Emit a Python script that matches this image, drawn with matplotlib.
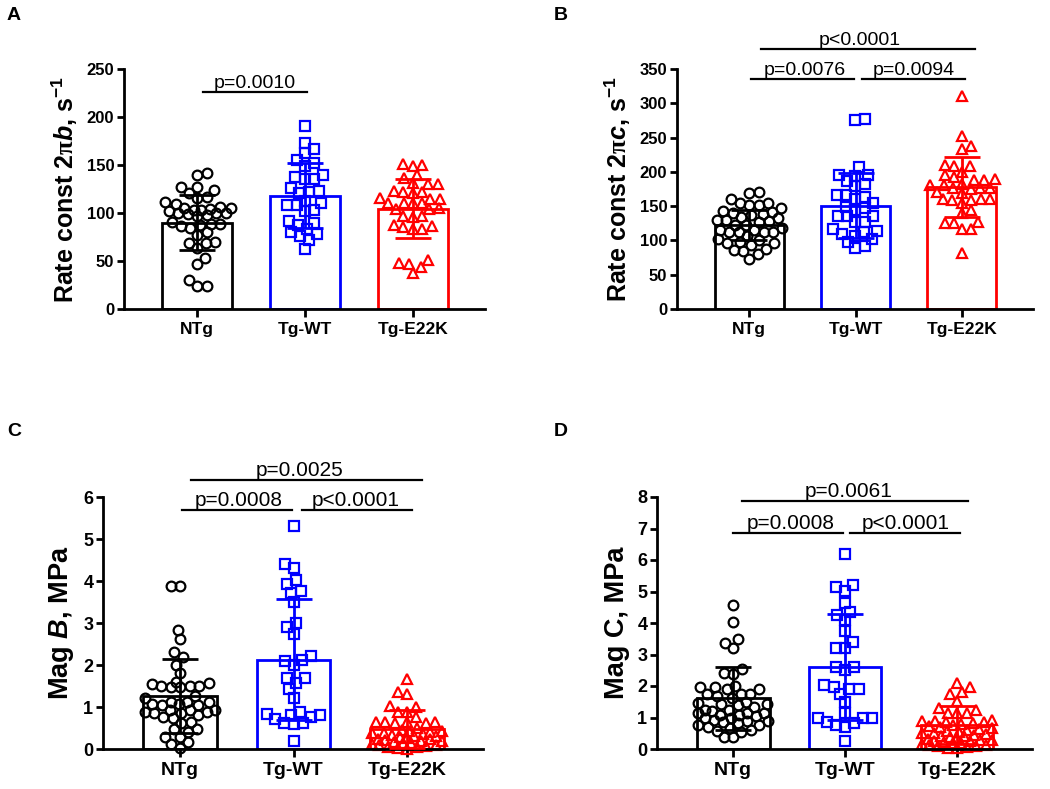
# plot.py
# 4 panels: bar (mean) + SD error bars + individual points (swarm), GraphPad style
import numpy as np
import matplotlib
matplotlib.use("Agg")
import matplotlib.pyplot as plt

plt.rcParams["font.family"] = ["Liberation Sans", "DejaVu Sans"]
plt.rcParams["font.weight"] = "bold"
plt.rcParams["mathtext.fontset"] = "custom"
plt.rcParams["mathtext.rm"] = "Liberation Sans:bold"
plt.rcParams["mathtext.bf"] = "Liberation Sans:bold"
plt.rcParams["mathtext.it"] = "Liberation Sans:bold:italic"
plt.rcParams["mathtext.sf"] = "Liberation Serif"
plt.rcParams["mathtext.default"] = "bf"

# ----------------------------
# data
# ----------------------------
groups = ["NTg", "Tg-WT", "Tg-E22K"]
colors = ["black", "#0000FF", "#FF0000"]
markers = ["o", "s", "^"]

# A: rate const 2*pi*b
A_ntg = [142, 140, 127, 127, 124, 121, 117, 116, 111, 109, 106, 105, 105, 104, 103, 103, 102,
         100, 100, 100, 99, 98, 97, 91, 89, 89, 87, 86, 84, 80, 77, 70, 69, 69, 64, 53, 47, 30, 24, 24]
A_wt = [191, 173, 167, 163, 155, 152, 149, 140, 138, 135, 135, 126, 123, 122, 121, 113, 110, 108,
        108, 103, 102, 92, 90, 88, 83, 80, 78, 76, 72, 63]
A_e22k = [151, 150, 149, 140, 136, 131, 130, 130, 123, 122, 122, 121, 116, 115, 115, 110, 110, 110,
          110, 105, 104, 104, 97, 97, 96, 88, 86, 85, 83, 83, 51, 48, 47, 44, 38]
A_mean = [90, 118, 104.5]
A_sd = [29, 34, 31]

# B: rate const 2*pi*c
B_ntg = [170, 169, 161, 155, 154, 152, 151, 147, 143, 142, 140, 138, 137, 134, 132, 130, 130, 129,
         127, 123, 122, 118, 115, 115, 113, 113, 113, 113, 106, 102, 101, 97, 96, 96, 93, 88, 86, 84, 80, 73]
B_wt = [277, 275, 207, 195, 195, 194, 186, 182, 179, 166, 166, 164, 160, 155, 149, 148, 145, 135,
        135, 135, 127, 127, 116, 114, 113, 109, 107, 102, 98, 92, 89]
B_e22k = [310, 252, 237, 233, 210, 208, 208, 200, 195, 192, 189, 188, 188, 183, 181, 181, 177, 176,
          176, 175, 171, 169, 161, 160, 160, 159, 159, 155, 144, 140, 127, 125, 125, 117, 116, 81]
B_mean = [122.5, 150.5, 178]
B_sd = [22, 47.5, 43.5]

# C: Mag B
C_ntg = [3.88, 3.88, 2.83, 2.61, 2.30, 2.18, 2.01, 1.80, 1.60, 1.56, 1.55, 1.50, 1.50, 1.50, 1.47,
         1.47, 1.27, 1.22, 1.13, 1.13, 1.11, 1.07, 1.07, 1.05, 1.05, 0.93, 0.93, 0.93, 0.89, 0.89,
         0.85, 0.85, 0.81, 0.77, 0.73, 0.65, 0.61, 0.48, 0.47, 0.40, 0.29, 0.29, 0.16, 0.12, 0.02]
C_wt = [5.30, 4.40, 4.32, 4.02, 3.92, 3.76, 3.72, 3.50, 3.00, 2.91, 2.75, 2.21, 2.13, 2.10, 2.00,
        1.68, 1.68, 1.58, 1.42, 1.22, 0.89, 0.83, 0.81, 0.81, 0.77, 0.71, 0.63, 0.63, 0.59, 0.20]
C_e22k = [1.66, 1.36, 1.31, 1.02, 1.01, 0.89, 0.89, 0.77, 0.65, 0.65, 0.65, 0.65, 0.61, 0.61, 0.49,
          0.45, 0.44, 0.42, 0.40, 0.38, 0.37, 0.35, 0.33, 0.32, 0.30, 0.28, 0.27, 0.25, 0.24, 0.22,
          0.20, 0.19, 0.17, 0.15, 0.14, 0.12, 0.10, 0.09, 0.07, 0.05, 0.04, 0.02, 0.01]
C_mean = [1.27, 2.13, 0.48]
C_sd = [0.88, 1.44, 0.45]

# D: Mag C
D_ntg = [4.57, 4.02, 3.49, 3.37, 3.22, 2.53, 2.42, 2.38, 2.01, 1.96, 1.96, 1.89, 1.89, 1.76, 1.76,
         1.76, 1.69, 1.63, 1.48, 1.47, 1.42, 1.42, 1.39, 1.34, 1.24, 1.24, 1.22, 1.15, 1.13, 1.13,
         1.08, 1.08, 1.05, 0.97, 0.97, 0.92, 0.90, 0.89, 0.87, 0.81, 0.76, 0.76, 0.71, 0.66, 0.60,
         0.58, 0.55, 0.37, 0.37]
D_wt = [6.20, 5.22, 5.15, 5.02, 4.62, 4.35, 4.25, 4.09, 3.74, 3.40, 3.22, 3.22, 2.61, 2.61, 2.50,
        2.03, 1.98, 1.89, 1.89, 1.76, 1.50, 1.15, 0.99, 0.99, 0.97, 0.87, 0.81, 0.76, 0.71, 0.26]
D_e22k = [2.09, 1.98, 1.80, 1.74, 1.53, 1.29, 1.24, 1.15, 1.13, 1.13, 0.92, 0.90, 0.88, 0.85, 0.85,
          0.82, 0.78, 0.75, 0.72, 0.70, 0.66, 0.62, 0.60, 0.57, 0.55, 0.52, 0.50, 0.47, 0.45, 0.42,
          0.40, 0.38, 0.35, 0.33, 0.30, 0.28, 0.26, 0.24, 0.22, 0.20, 0.18, 0.16, 0.14, 0.12, 0.10,
          0.08, 0.06, 0.04, 0.02]
D_mean = [1.61, 2.59, 0.77]
D_sd = [1.0, 1.68, 0.6]

# significance brackets: (x0, x1, y, label, label_x)
A_sig = [(0.05, 1.02, 226, "p=0.0010", 0.53)]
B_sig = [(0.02, 0.99, 336, "p=0.0076", 0.52), (1.06, 2.03, 336, "p=0.0094", 1.55),
         (0.11, 2.12, 379, "p<0.0001", 1.04)]
C_sig = [(0.02, 0.99, 5.70, "p=0.0008", 0.52), (1.07, 2.04, 5.70, "p<0.0001", 1.55),
         (0.10, 2.13, 6.41, "p=0.0025", 1.05)]
D_sig = [(0.0, 0.98, 6.87, "p=0.0008", 0.51), (1.04, 2.03, 6.87, "p<0.0001", 1.54),
         (0.08, 2.10, 7.87, "p=0.0061", 1.03)]

BAR_W = 0.65


# ----------------------------
# helpers
# ----------------------------
def swarm_x(ax, xc, vals, d=9.5):
    """beeswarm limited to the bar width: nearest free spot to the centre,
    or the least crowded spot when the row is full (points then overlap)"""
    pts = ax.transData.transform(np.column_stack([np.full(len(vals), xc), vals]))
    ys = pts[:, 1]
    ppu = ax.transData.transform([[1, 0]])[0][0] - ax.transData.transform([[0, 0]])[0][0]
    limit = 0.48 * BAR_W * ppu
    grid = np.arange(-limit, limit + 0.01, 0.5)
    order = np.argsort(ys, kind="stable")
    px, py = [], []
    xs = np.zeros(len(vals))
    side = 1
    for i in order:
        y = ys[i]
        if px:
            dist = np.sqrt((grid[:, None] - np.array(px)[None, :]) ** 2 +
                           (y - np.array(py)[None, :]) ** 2).min(axis=1)
        else:
            dist = np.full(len(grid), np.inf)
        ok = dist >= d
        if ok.any():
            cand = grid[ok]
            score = np.round(np.abs(cand), 1) - 0.01 * side * np.sign(cand)
            pick = cand[np.argmin(score)]
        else:
            best = dist.max()
            cand = grid[dist >= best - 0.3]
            pick = cand[np.argmin(np.abs(cand))]
        xs[i] = pick
        if abs(pick) > 0.3:
            side = -1 if pick > 0 else 1
        px.append(pick)
        py.append(y)
    return xc + xs / ppu


def draw_panel(ax, data, means, sds, ylim, yticks, ylabel, sig, tick_fs, xt_fs, p_fs, lab_fs, labelpad):
    ax.set_xlim(-0.68, 2.67)
    ax.set_ylim(*ylim)
    x = np.arange(3)
    ax.bar(x, means, width=BAR_W, facecolor="white", edgecolor=colors, linewidth=2.0, zorder=1)
    msizes = {"o": 7, "s": 6.5, "^": 7.5}
    for k in range(3):
        xs = swarm_x(ax, k, data[k])
        ax.plot(xs, data[k], linestyle="none", marker=markers[k], ms=msizes[markers[k]],
                mfc="none", mec=colors[k], mew=1.6, zorder=2, clip_on=False)
        ax.errorbar(k, means[k], yerr=sds[k], color=colors[k], elinewidth=2.0, capsize=13,
                    capthick=2.0, zorder=3)
    for x0, x1, y, lab, lx in sig:
        ax.plot([x0, x1], [y, y], color="black", lw=1.6, clip_on=False, zorder=4)
        ax.text(lx, y, lab, ha="center", va="bottom", fontsize=p_fs, fontweight="normal",
                clip_on=False)
    ax.spines["top"].set_visible(False)
    ax.spines["right"].set_visible(False)
    ax.spines["left"].set_linewidth(2.0)
    ax.spines["bottom"].set_linewidth(2.0)
    ax.set_yticks(yticks)
    ax.set_xticks(x)
    ax.set_xticklabels(groups, fontsize=xt_fs, fontweight="bold")
    ax.tick_params(axis="y", labelsize=tick_fs, width=2.0, length=5, pad=2)
    ax.tick_params(axis="x", width=2.0, length=6)
    for t in ax.get_yticklabels():
        t.set_fontweight("bold")
    ax.set_ylabel(ylabel, fontsize=lab_fs, fontweight="bold", labelpad=labelpad)


# ----------------------------
# main
# ----------------------------
fig = plt.figure(figsize=(10.5, 7.89), dpi=100)

axA = fig.add_axes([124 / 1050, 1 - 309 / 789, 361 / 1050, 240 / 789])
axB = fig.add_axes([677 / 1050, 1 - 309 / 789, 356 / 1050, 240 / 789])
axC = fig.add_axes([103 / 1050, 1 - 749 / 789, 380 / 1050, 252 / 789])
axD = fig.add_axes([657 / 1050, 1 - 749 / 789, 375 / 1050, 252 / 789])

draw_panel(axA, [A_ntg, A_wt, A_e22k], A_mean, A_sd, (0, 250), np.arange(0, 251, 50),
           r"Rate const 2$\mathsf{\pi}\mathit{b}$, s$^{-1}$", A_sig, 12, 12.5, 14, 18, 5)
draw_panel(axB, [B_ntg, B_wt, B_e22k], B_mean, B_sd, (0, 350), np.arange(0, 351, 50),
           r"Rate const 2$\mathsf{\pi}\mathit{c}$, s$^{-1}$", B_sig, 12, 12.5, 14, 18, 5)
draw_panel(axC, [C_ntg, C_wt, C_e22k], C_mean, C_sd, (0, 6), np.arange(0, 7, 1),
           r"Mag $\mathit{B}$, MPa", C_sig, 13, 14, 15, 19.5, 5)
draw_panel(axD, [D_ntg, D_wt, D_e22k], D_mean, D_sd, (0, 8), np.arange(0, 9, 1),
           "Mag C, MPa", D_sig, 13, 14, 15, 19.5, 5)

# panel letters
for lab, x, y in [("A", 7, 16), ("B", 554, 16), ("C", 7, 431), ("D", 554, 431)]:
    fig.text(x / 1050, 1 - y / 789, lab, fontsize=14, fontweight="bold", va="center", ha="left")

fig.savefig("out.png", dpi=100)
